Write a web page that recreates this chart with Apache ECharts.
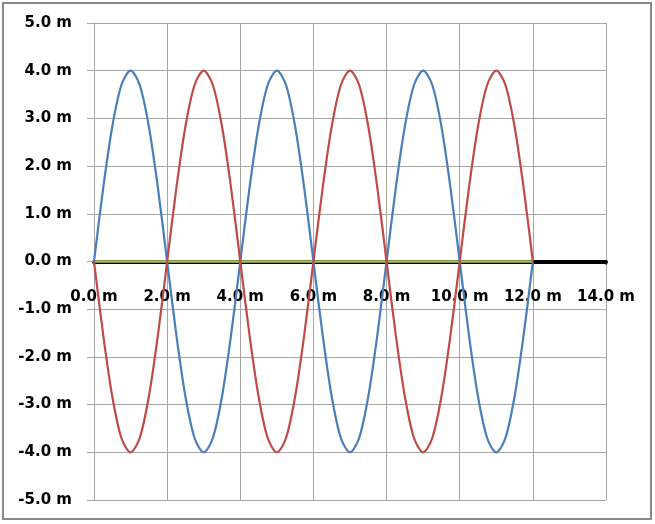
<!DOCTYPE html>
<html>
<head>
<meta charset="utf-8">
<script src="https://cdn.jsdelivr.net/npm/echarts@6/dist/echarts.min.js"></script>
<style>
html,body{margin:0;padding:0;background:#fff;}
#c{width:655px;height:524px;}
</style>
</head>
<body>
<div id="c"></div>
<script>
var xValues = [0,0.25,0.5,0.75,1,1.25,1.5,1.75,2,2.25,2.5,2.75,3,3.25,3.5,3.75,4,4.25,4.5,4.75,5,5.25,5.5,5.75,6,6.25,6.5,6.75,7,7.25,7.5,7.75,8,8.25,8.5,8.75,9,9.25,9.5,9.75,10,10.25,10.5,10.75,11,11.25,11.5,11.75,12];
var blueWave = [0,1.53,2.83,3.70,4,3.70,2.83,1.53,0,-1.53,-2.83,-3.70,-4,-3.70,-2.83,-1.53,0,1.53,2.83,3.70,4,3.70,2.83,1.53,0,-1.53,-2.83,-3.70,-4,-3.70,-2.83,-1.53,0,1.53,2.83,3.70,4,3.70,2.83,1.53,0,-1.53,-2.83,-3.70,-4,-3.70,-2.83,-1.53,0];
var redWave = [0,-1.53,-2.83,-3.70,-4,-3.70,-2.83,-1.53,0,1.53,2.83,3.70,4,3.70,2.83,1.53,0,-1.53,-2.83,-3.70,-4,-3.70,-2.83,-1.53,0,1.53,2.83,3.70,4,3.70,2.83,1.53,0,-1.53,-2.83,-3.70,-4,-3.70,-2.83,-1.53,0,1.53,2.83,3.70,4,3.70,2.83,1.53,0];
var flatX = [0,12];
var flatY = [0,0];

function pairs(xs, ys){ var o=[]; for(var i=0;i<xs.length;i++){o.push([xs[i],ys[i]]);} return o; }
function fmt(v){ return v.toFixed(1) + ' m'; }

var chart = echarts.init(document.getElementById('c'), null, {renderer:'canvas'});
chart.setOption({
  animation:false,
  backgroundColor:'#fff',
  graphic:[{type:'rect',shape:{x:3,y:3,width:648,height:516},style:{fill:'none',stroke:'#8a8a8a',lineWidth:2},z:-10}],
  grid:{left:94,right:49,top:23,bottom:24,containLabel:false,outerBoundsMode:'none'},
  xAxis:{
    type:'value',min:0,max:14,interval:2,position:'bottom',offset:-238.5,
    axisLine:{onZero:false,lineStyle:{color:'#000',width:4}},
    axisTick:{show:true,length:3,lineStyle:{color:'#000',width:2}},
    axisLabel:{formatter:fmt,margin:28,color:'#000',fontFamily:'DejaVu Sans',fontWeight:'bold',fontSize:15},
    splitLine:{show:true,lineStyle:{color:'#a6a6a6',width:1}}
  },
  yAxis:{
    type:'value',min:-5,max:5,interval:1,
    axisLine:{show:true,onZero:false,lineStyle:{color:'#a6a6a6',width:1}},
    axisTick:{show:true,length:7,lineStyle:{color:'#a6a6a6'}},
    axisLabel:{formatter:fmt,margin:22,color:'#000',fontFamily:'DejaVu Sans',fontWeight:'bold',fontSize:15},
    splitLine:{show:true,lineStyle:{color:'#a6a6a6',width:1}}
  },
  series:[
    {type:'line',data:pairs(flatX,flatY),symbol:'none',lineStyle:{color:'#a9c256',width:2.5},z:2},
    {type:'line',data:pairs(xValues,blueWave),symbol:'none',smooth:0.3,lineStyle:{color:'#4a7ebb',width:2.2},z:3},
    {type:'line',data:pairs(xValues,redWave),symbol:'none',smooth:0.3,lineStyle:{color:'#be4b48',width:2.2},z:4}
  ]
});
</script>
</body>
</html>
